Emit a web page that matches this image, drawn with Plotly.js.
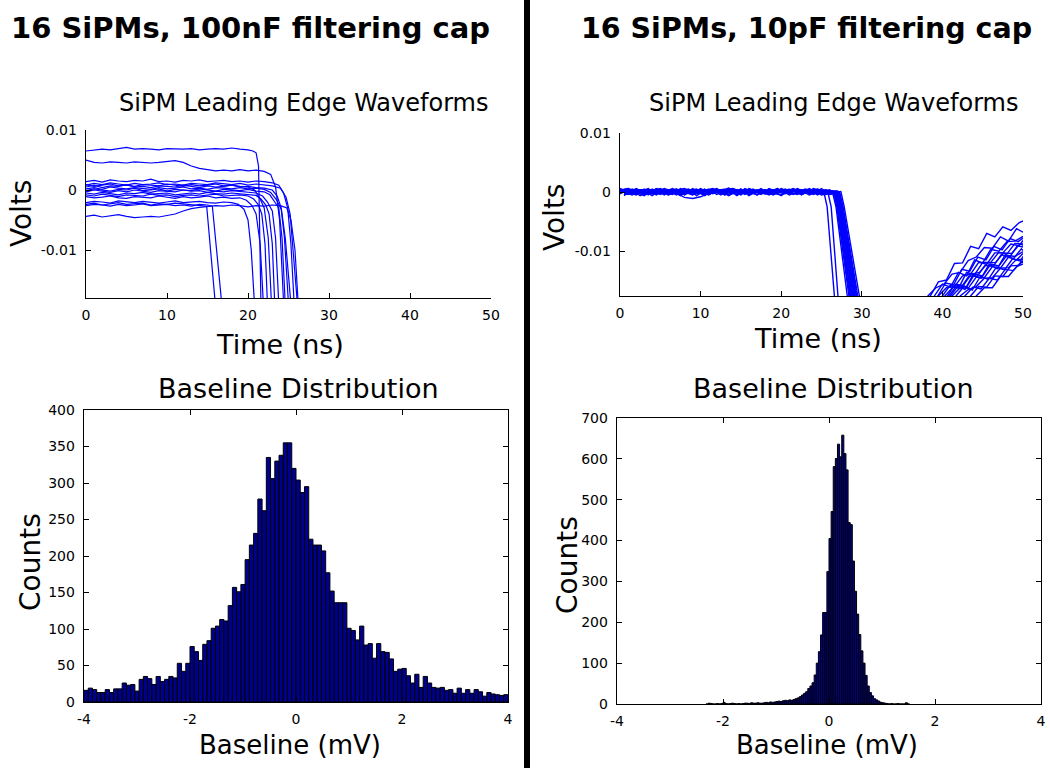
<!DOCTYPE html>
<html>
<head>
<meta charset="utf-8">
<script src="https://cdn.plot.ly/plotly-3.0.1.min.js"></script>
<style>html,body{margin:0;padding:0;background:#fff;}#chart{width:1050px;height:768px;}</style>
</head>
<body>
<div id="chart"></div>
<script>
// ---------------- DATA ----------------
const panelTitles = ["16 SiPMs, 100nF filtering cap", "16 SiPMs, 10pF filtering cap"];
const waveTitle = "SiPM Leading Edge Waveforms";
const histTitle = "Baseline Distribution";

// Tick labels
const waveTimeTicks = [0, 10, 20, 30, 40, 50];
const waveVoltTicks = [0.01, 0, -0.01];
const waveVoltTickText = ["0.01", "0", "-0.01"];
const histBaselineTicks = [-4, -2, 0, 2, 4];
const histBaselineTickText = ["-4", "-2", "0", "2", "4"];
const leftCountTicks = [0, 50, 100, 150, 200, 250, 300, 350, 400];
const rightCountTicks = [0, 100, 200, 300, 400, 500, 600, 700];

// Sampling grids (ns) for baseline portions of waveforms
const gridNs = [0,1,2,3,4,5,6,7,8,9,10,11,12,13,14,15,16,17,18,19,20,21,22,23,24,25];
const gridHalfNs = [0.5,1.5,2.5,3.5,4.5,5.5,6.5,7.5,8.5,9.5,10.5,11.5,12.5,13.5,14.5,15.5,16.5,17.5,18.5,19.5,20.5,21.5,22.5,23.5,24.5,25.5];

// ---- 100nF waveforms (mV): baseline samples on gridNs, then leading edge points
const leftBaseMV = [
  [6.5,6.7,6.8,6.7,6.9,7.1,6.8,6.9,6.8,6.7,6.9,6.8,6.8,6.9,6.7,6.8,6.9,6.8,7.0,6.8,6.7],
  [5.0,4.6,4.5,4.7,4.6,4.5,4.7,4.6,4.5,4.6,4.7,4.9,4.6,4.0,3.6,3.4,3.2,3.3,3.2,3.4,3.2,3.3,3.1],
  [1.4,1.6,1.3,1.7,1.5,1.4,1.6,1.5,1.8,1.4,1.5,1.3,1.6,1.5,1.7,1.4,1.5,1.6,1.4,1.5,1.3,1.5,1.4,1.2],
  [0.8,1.1,0.9,1.2,1.0,0.8,1.1,0.9,1.0,1.2,0.9,1.0,0.8,1.1,1.0,0.9,1.2,1.0,0.9,1.1,0.8,1.0,0.9,0.7,0.3],
  [0.5,0.8,0.4,0.7,0.6,0.9,0.5,0.6,0.4,0.7,0.6,0.5,0.8,0.6,0.4,0.7,0.5,0.6,0.8,0.5,0.6,0.4,0.3,0.0],
  [0.2,0.4,0.1,0.5,0.3,0.2,0.4,0.3,0.1,0.4,0.2,0.3,0.5,0.2,0.3,0.1,0.4,0.3,0.2,0.4,0.2,0.3,0.1],
  [-0.1,0.2,0.0,-0.2,0.1,0.0,0.3,-0.1,0.0,0.2,-0.2,0.1,0.0,-0.1,0.2,0.0,-0.2,0.1,0.0,-0.1,0.1,-0.2,-0.3],
  [-0.3,0.0,-0.2,-0.4,-0.1,-0.3,0.0,-0.2,-0.4,-0.1,-0.2,-0.3,0.0,-0.2,-0.1,-0.4,-0.2,-0.3,-0.1,-0.2,-0.4,-0.5],
  [-0.5,-0.7,-0.4,-0.6,-0.8,-0.5,-0.6,-0.4,-0.7,-0.6,-0.5,-0.8,-0.6,-0.5,-0.7,-0.4,-0.6,-0.7,-0.5,-0.6,-0.8,-0.9],
  [0.9,0.6,0.8,1.0,0.7,0.8,0.6,0.9,0.8,0.7,1.0,0.8,0.6,0.9,0.7,0.8,1.0,0.7,0.8,0.6,0.5],
  [-0.8,-1.0,-0.7,-0.9,-1.1,-0.8,-0.9,-1.0,-0.7,-0.9,-0.8,-1.1,-0.9,-0.8,-1.0,-0.9,-0.7,-1.0,-0.9,-0.8,-1.0],
  [-1.1,-1.3,-1.2,-1.0,-1.3,-1.4,-1.1,-1.2,-1.3,-1.0,-1.2,-1.4,-1.1,-1.3,-1.2,-1.0,-1.3,-1.2,-1.4,-1.3],
  [-2.1,-1.9,-2.0,-2.2,-1.8,-2.0,-2.1,-1.9,-2.0,-2.2,-2.0,-1.8,-2.1,-2.0,-1.9,-2.1,-2.2,-2.0,-2.1],
  [-2.4,-2.2,-2.5,-2.3,-2.1,-2.4,-2.3,-2.2,-2.5,-2.3,-2.4,-2.2,-2.3,-2.4,-2.5],
  [-2.6,-2.4,-2.5,-2.7,-2.4,-2.6,-2.5,-2.3,-2.6,-2.5,-2.4,-2.6,-2.5,-2.7,-2.4,-2.5],
  [-4.4,-4.2,-4.5,-4.3,-4.1,-4.4,-4.6,-4.5,-4.4,-4.5,-4.3,-4.0,-3.5,-3.1,-2.9,-2.7,-2.6,-2.7,-2.5,-2.6,-2.8,-2.6,-2.7,-2.5,-2.6]
];
const leftEdgeNs = [
  [20.6,21.0,21.3,21.6],
  [22.8,23.4,23.9,24.4],
  [23.8,24.4,24.9,25.3,25.7],
  [24.7,25.2,25.6,26.1],
  [23.6,24.1,24.6,25.3],
  [22.8,23.5,24.1,24.5,25.0],
  [22.7,23.3,23.8,24.2,24.6],
  [21.8,22.4,23.0,23.4,23.8],
  [21.6,22.2,22.6,23.0,23.3],
  [20.8,21.5,22.0,22.5,22.9],
  [20.7,21.3,21.7,22.1,22.4],
  [19.8,20.5,21.0,21.5,21.9],
  [18.8,19.5,20.0,20.4,20.8],
  [14.9,16.0],
  [15.6,16.8],
  [24.8,25.3,25.8,26.2]
];
const leftEdgeMV = [
  [6.5,6.2,4.0,-19],
  [2.6,0.5,-5,-19],
  [0.8,-0.5,-3,-9,-19],
  [-1.2,-4,-10,-19],
  [-1.0,-3.0,-8,-19],
  [-0.4,-1.6,-3.2,-8,-19],
  [-0.8,-2.0,-3.0,-8,-19],
  [-1.0,-2.0,-3.5,-8,-19],
  [-1.5,-2.5,-4,-9,-19],
  [0.0,-1.5,-3,-8,-19],
  [-1.5,-2.5,-4,-9,-19],
  [-1.7,-2.6,-4,-9,-19],
  [-2.4,-3.2,-5,-10,-19],
  [-2.7,-19.5],
  [-2.7,-19.5],
  [-3.0,-5,-10,-19]
];

// ---- 10pF waveforms (mV): baseline (even traces on gridNs, odd on gridHalfNs), leading edge, recovery
const rightBaseMV = [
  [0.3,-0.4,0.5,-0.2,0.1,0.6,-0.5,0.2,-0.3,0.4,-0.1,0.5,-0.4,0.3,0.6,-0.2,0.1,-0.5,0.4,-0.3,0.2,0.5,-0.1,0.3,-0.4,0.2],
  [-0.5,0.2,-0.1,0.6,-0.4,0.3,0.1,-0.6,0.4,-0.2,0.5,-0.3,0.2,0.7,-0.1,0.4,-0.3,0.3,-0.5,0.6,-0.2,0.1,0.4,-0.3,0.5,0.0],
  [0.1,0.6,-0.3,0.2,-0.6,0.4,-0.2,0.5,0.0,-0.5,0.3,0.1,0.6,-0.2,0.4,-0.4,0.5,0.2,-0.1,0.3,-0.6,0.4,0.1,-0.2,0.3,-0.3],
  [-0.2,0.3,0.4,-0.5,0.5,-0.1,0.6,-0.3,0.2,0.1,-0.6,0.4,-0.2,0.3,-0.5,0.6,0.0,-0.3,0.5,-0.1,0.4,-0.4,0.3,0.5,-0.2,0.1],
  [0.4,-0.1,-0.5,0.3,0.2,-0.4,0.3,-0.2,-0.9,-1.1,-0.8,-0.2,0.3,-0.1,0.5,0.2,-0.4,0.4,0.1,-0.5,0.3,-0.2,0.6,-0.1,0.2,-0.3],
  [-0.6,0.5,0.1,-0.3,0.4,0.0,-0.4,0.6,-0.1,0.3,-0.3,0.5,0.1,-0.6,0.2,0.4,-0.2,0.6,-0.4,0.1,0.5,-0.3,-0.1,0.4,-0.5,0.3],
  [0.2,-0.3,0.6,0.0,-0.2,0.5,0.2,-0.5,0.3,-0.4,0.6,-0.2,0.4,0.1,-0.3,0.5,-0.6,0.2,0.3,-0.2,0.6,0.0,-0.4,0.2,0.4,-0.1],
  [0.5,0.1,-0.2,0.4,-0.5,0.3,-0.1,0.2,0.5,-0.3,0.1,0.4,-0.5,0.2,0.3,-0.1,0.4,-0.4,0.6,0.0,-0.3,0.5,0.2,-0.5,0.1,0.4],
  [-0.3,0.4,0.0,-0.6,0.3,0.5,-0.2,0.1,-0.4,0.6,-0.1,-0.4,0.3,0.5,-0.2,0.1,0.3,-0.5,0.2,0.4,-0.1,-0.3,0.5,0.1,-0.2,0.6],
  [0.0,-0.5,0.3,0.5,-0.1,-0.3,0.4,0.0,0.3,-0.2,0.2,0.6,-0.1,-0.4,0.4,0.0,-0.2,0.5,-0.3,0.2,0.1,0.6,-0.5,0.3,0.0,-0.4],
  [0.6,0.0,0.2,-0.4,0.5,-0.2,0.0,0.4,-0.5,0.2,0.4,-0.3,0.5,-0.3,0.1,-0.5,0.6,0.0,0.3,-0.4,0.2,-0.1,0.3,-0.2,0.6,0.1],
  [-0.1,0.3,-0.6,0.1,0.3,-0.5,0.5,-0.4,0.1,0.3,-0.5,0.2,0.0,0.4,-0.6,0.3,0.2,-0.2,-0.4,0.5,0.0,0.3,-0.2,0.6,-0.3,0.2],
  [0.3,0.6,0.1,-0.1,-0.3,0.2,-0.5,0.3,0.6,-0.1,0.1,-0.5,0.3,0.2,0.0,0.5,-0.4,0.1,0.4,-0.2,-0.5,0.2,0.4,0.0,0.3,-0.5],
  [-0.4,-0.2,0.4,0.3,0.0,0.6,0.1,-0.3,0.2,0.5,-0.4,0.3,-0.3,0.6,0.2,-0.3,0.4,-0.1,0.0,0.6,-0.2,0.5,-0.3,0.2,0.5,0.0],
  [0.2,0.5,-0.4,0.5,-0.3,-0.1,0.4,0.5,-0.2,0.0,0.5,0.0,0.4,-0.5,0.6,0.1,-0.1,0.3,-0.3,0.1,0.4,-0.5,0.0,0.5,-0.1,0.3],
  [-0.2,0.1,0.3,-0.3,0.6,0.1,-0.3,0.0,0.4,-0.6,0.2,0.5,-0.2,0.1,0.3,-0.4,0.5,-0.2,0.2,-0.1,0.3,0.2,-0.4,0.1,0.4,-0.2]
];
const rightEdgeNs = [
  [25.3,25.7,26.6,27.0],
  [25.8,26.2,27.0,27.4],
  [26.0,26.4,26.8,28.2,28.6],
  [26.5,26.9,28.4,28.8],
  [26.0,26.6,27.0,28.5,28.9],
  [26.7,27.1,28.6,29.0],
  [26.0,26.7,27.1,28.7,29.1],
  [26.8,27.2,28.8,29.2],
  [26.0,26.9,27.3,28.9,29.3],
  [26.9,27.3,29.0,29.4],
  [26.0,27.0,27.4,29.1,29.5],
  [27.0,27.4,29.2,29.6],
  [26.0,27.1,27.5,29.3,29.7],
  [27.2,27.6,29.4,29.8],
  [26.0,27.3,27.7,29.5,29.9],
  [27.4,27.8,29.7,30.1]
];
const rightEdgeMV = [
  [0.0,-2.5,-17.6,-24],
  [-0.1,-2.5,-17.6,-24],
  [0.3,-0.2,-2.5,-17.6,-24],
  [0.0,-2.4,-17.6,-24],
  [0.4,-0.1,-2.6,-17.6,-24],
  [0.1,-2.4,-17.6,-24],
  [0.2,-0.3,-2.7,-17.6,-24],
  [0.0,-2.5,-17.6,-24],
  [-0.4,-0.2,-2.6,-17.6,-24],
  [0.1,-2.3,-17.6,-24],
  [-0.1,-0.2,-2.5,-17.6,-24],
  [0.2,-2.4,-17.6,-24],
  [-0.2,-0.1,-2.6,-17.6,-24],
  [0.0,-2.5,-17.6,-24],
  [0.0,-0.3,-2.7,-17.6,-24],
  [0.1,-2.4,-17.6,-24]
];
const rightRecoveryNs = [
  [37.7,38.5,39.5,40.5,41.5,42.5,43.5,44.5,45.5,46.5,47.5,48.5,49.5,50],
  [37.4,38.2,39.2,40.2,41.2,42.2,43.2,44.2,45.2,46.2,47.2,48.2,49.2,50],
  [38.2,39,40,41,42,43,44,45,46,47,48,49,50],
  [38.7,39.5,40.5,41.5,42.5,43.5,44.5,45.5,46.5,47.5,48.5,49.5,50],
  [39.2,40,41,42,43,44,45,46,47,48,49,50],
  [39.5,40.3,41.3,42.3,43.3,44.3,45.3,46.3,47.3,48.3,49.3,50],
  [40,40.8,41.8,42.8,43.8,44.8,45.8,46.8,47.8,48.8,49.8,50],
  [40.4,41.2,42.2,43.2,44.2,45.2,46.2,47.2,48.2,49.2,50],
  [40.9,41.7,42.7,43.7,44.7,45.7,46.7,47.7,48.7,49.7,50],
  [41.4,42.2,43.2,44.2,45.2,46.2,47.2,48.2,49.2,50],
  [42,42.8,43.8,44.8,45.8,46.8,47.8,48.8,49.8,50],
  [38.6,39.4,40.4,41.4,42.4,43.4,44.4,45.4,46.4,47.4,48.4,49.4,50],
  [39.8,40.6,41.6,42.6,43.6,44.6,45.6,46.6,47.6,48.6,49.6,50],
  [40.2,41,42,43,44,45,46,47,48,49,50],
  [42.7,43.5,44.5,45.5,46.5,47.5,48.5,49.5,50],
  [43.4,44.2,45.2,46.2,47.2,48.2,49.2,50]
];
const rightRecoveryMV = [
  [-19.5,-17.6,-15.2,-14.9,-12.1,-12.0,-9.2,-9.6,-7.0,-7.6,-5.9,-6.5,-5.2,-4.9],
  [-19.5,-17.6,-16.2,-15.6,-13.9,-13.6,-11.6,-11.0,-9.4,-9.5,-7.6,-8.3,-6.2,-6.8],
  [-19.5,-17.6,-15.6,-16.1,-13.6,-14.2,-11.5,-12.0,-9.7,-10.0,-8.4,-8.3,-7.5],
  [-19.5,-17.6,-16.2,-16.0,-14.2,-13.9,-11.9,-12.2,-10.3,-10.3,-8.8,-9.1,-8.2],
  [-19.5,-17.6,-15.7,-16.3,-13.6,-14.0,-11.9,-11.9,-10.2,-10.5,-8.7,-8.8],
  [-19.5,-17.6,-16.1,-16.2,-14.2,-14.3,-12.4,-12.6,-10.6,-11.1,-9.1,-9.3],
  [-19.5,-17.6,-15.8,-16.5,-14.0,-14.6,-12.2,-13.0,-10.6,-11.3,-9.6,-9.9],
  [-19.5,-17.6,-16.2,-16.3,-14.4,-14.5,-12.6,-12.9,-11.0,-11.5,-10.4],
  [-19.5,-17.6,-15.9,-16.6,-14.3,-14.8,-12.7,-13.2,-11.3,-11.7,-10.9],
  [-19.5,-17.6,-16.5,-16.0,-14.6,-14.5,-12.9,-12.8,-11.4,-11.4],
  [-19.5,-17.6,-16.1,-16.4,-14.6,-14.9,-13.1,-13.3,-11.8,-12.0],
  [-19.5,-17.6,-15.4,-15.7,-13.1,-13.4,-11.0,-11.5,-9.2,-9.8,-7.9,-8.4,-7.8],
  [-19.5,-17.6,-15.6,-15.8,-13.9,-13.6,-12.0,-11.9,-10.3,-10.4,-8.8,-9.0],
  [-19.5,-17.6,-15.8,-16.1,-13.9,-14.2,-12.2,-12.5,-10.7,-10.9,-10.1],
  [-19.5,-17.6,-16.0,-16.1,-14.2,-14.3,-12.5,-12.4,-11.6],
  [-19.5,-17.6,-16.2,-16.2,-14.3,-14.3,-12.6,-12.2]
];

// ---- Baseline histograms
const leftHistBinStart = -4.0;   // mV
const leftHistBinWidth = 0.08;   // mV
const leftHistCounts = [
  16,19,17,13,13,17,13,18,18,26,
  23,24,15,31,35,32,24,35,28,31,
  35,33,53,42,53,76,69,57,79,84,
  101,104,113,111,132,157,151,161,195,215,
  231,278,262,335,306,330,338,355,355,320,
  304,287,295,223,215,215,207,177,152,136,
  136,136,101,98,85,104,78,80,60,80,
  69,68,59,42,45,46,36,26,38,20,
  35,26,20,19,20,16,17,12,19,12,
  17,12,17,14,8,13,11,10,9,10
];
const rightHistBinStart = -2.32; // mV
const rightHistBinWidth = 0.04;  // mV
const rightHistCounts = [
  0,2,1,0,0,1,0,1,4,1,
  0,1,2,1,0,1,0,1,2,2,
  1,3,2,2,3,2,2,3,4,3,
  5,4,5,6,7,6,8,9,8,10,
  9,11,13,15,18,22,26,30,38,44,
  52,71,100,128,169,224,224,324,405,471,
  581,601,636,605,658,613,573,444,439,350,
  276,220,170,130,100,70,44,28,20,13,
  10,7,4,3,2,1,0,1,0,0,
  1,0,0,0,3,0
];

// ---------------- BUILD ----------------
const BLUE = '#0000ff';
const traces = [];
function addWave(t, mv, xa, ya, w) {
  traces.push({
    type: 'scatter', mode: 'lines', x: t, y: mv.map(v => v / 1000),
    xaxis: xa, yaxis: ya, line: {color: BLUE, width: w},
    hoverinfo: 'skip', showlegend: false
  });
}
leftBaseMV.forEach((base, i) => {
  addWave(gridNs.slice(0, base.length).concat(leftEdgeNs[i]), base.concat(leftEdgeMV[i]), 'x', 'y', 1.2);
});
rightBaseMV.forEach((base, i) => {
  const grid = (i % 2 === 0) ? gridNs : gridHalfNs;
  addWave(grid.slice(0, base.length).concat(rightEdgeNs[i], rightRecoveryNs[i]),
          base.concat(rightEdgeMV[i], rightRecoveryMV[i]), 'x2', 'y2', 1.4);
});
function histTrace(start, width, counts, xa, ya) {
  return {
    type: 'bar', x: counts.map((c, i) => start + (i + 0.5) * width), y: counts, width: width,
    xaxis: xa, yaxis: ya, marker: {color: '#00008f', line: {color: '#000000', width: 1}},
    hoverinfo: 'skip', showlegend: false
  };
}
traces.push(histTrace(leftHistBinStart, leftHistBinWidth, leftHistCounts, 'x3', 'y3'));
traces.push(histTrace(rightHistBinStart, rightHistBinWidth, rightHistCounts, 'x4', 'y4'));

const W = 1050, H = 768;
const px = v => v / W, py = v => 1 - v / H;
const tickFont = {family: 'DejaVu Sans', size: 14, color: '#000'};
function axis(extra) {
  return Object.assign({
    showgrid: false, zeroline: false, showline: true, linecolor: '#000', linewidth: 1.3,
    ticks: 'inside', ticklen: 5, tickwidth: 1, tickcolor: '#000', tickfont: tickFont,
    fixedrange: true, tickmode: 'array'
  }, extra);
}
const xStand = 4, yStand = 5;
const layout = {
  width: W, height: H, margin: {l: 0, r: 0, t: 0, b: 0},
  paper_bgcolor: '#fff', plot_bgcolor: '#fff', showlegend: false, bargap: 0,
  xaxis: axis({domain: [px(86), px(491)], range: [0, 50], anchor: 'y', tickvals: waveTimeTicks, ticktext: waveTimeTicks.map(String), ticklabelstandoff: xStand}),
  yaxis: axis({domain: [py(298), py(130)], range: [-0.018, 0.01], anchor: 'x', tickvals: waveVoltTicks, ticktext: waveVoltTickText, ticklabelstandoff: yStand}),
  xaxis2: axis({domain: [px(620), px(1023)], range: [0, 50], anchor: 'y2', tickvals: waveTimeTicks, ticktext: waveTimeTicks.map(String), ticklabelstandoff: xStand}),
  yaxis2: axis({domain: [py(296), py(133)], range: [-0.0176, 0.01], anchor: 'x2', tickvals: waveVoltTicks, ticktext: waveVoltTickText, ticklabelstandoff: yStand}),
  xaxis3: axis({domain: [px(84), px(508)], range: [-4, 4], anchor: 'y3', mirror: 'ticks', tickvals: histBaselineTicks, ticktext: histBaselineTickText, ticklabelstandoff: xStand}),
  yaxis3: axis({domain: [py(702), py(410)], range: [0, 400], anchor: 'x3', mirror: 'ticks', tickvals: leftCountTicks, ticktext: leftCountTicks.map(String), ticklabelstandoff: yStand}),
  xaxis4: axis({domain: [px(617), px(1041)], range: [-4, 4], anchor: 'y4', mirror: 'ticks', tickvals: histBaselineTicks, ticktext: histBaselineTickText, ticklabelstandoff: xStand}),
  yaxis4: axis({domain: [py(704), py(418)], range: [0, 700], anchor: 'x4', mirror: 'ticks', tickvals: rightCountTicks, ticktext: rightCountTicks.map(String), ticklabelstandoff: yStand}),
  shapes: [{type: 'rect', xref: 'paper', yref: 'paper', x0: px(524), x1: px(530), y0: 0, y1: 1, fillcolor: '#000', line: {width: 0}}],
  annotations: []
};
function label(text, x, y, size, opts) {
  layout.annotations.push(Object.assign({
    text: text, xref: 'paper', yref: 'paper', x: px(x), y: py(y), xanchor: 'center', yanchor: 'middle',
    showarrow: false, font: {family: 'DejaVu Sans', size: size, color: '#000'}
  }, opts || {}));
}
label('<b>' + panelTitles[0] + '</b>', 250, 28, 29);
label('<b>' + panelTitles[1] + '</b>', 806, 28, 28.5);
label(waveTitle, 303, 103, 24);
label(waveTitle, 833, 103, 24);
label(histTitle, 298, 388, 27);
label(histTitle, 833, 388, 27);
label('Volts', 22, 214, 28, {textangle: -90});
label('Volts', 554, 218, 28, {textangle: -90});
label('Time (ns)', 280, 344, 27);
label('Time (ns)', 818, 338, 27);
label('Counts', 30, 562, 28, {textangle: -90});
label('Counts', 567, 565, 28, {textangle: -90});
label('Baseline (mV)', 290, 745, 26);
label('Baseline (mV)', 827, 745, 26);

Plotly.newPlot('chart', traces, layout, {staticPlot: true, displayModeBar: false});
</script>
</body>
</html>
